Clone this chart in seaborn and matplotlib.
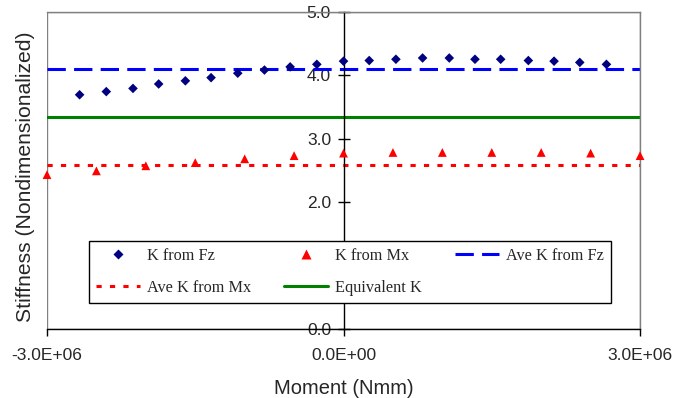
import matplotlib
matplotlib.use("Agg")
import matplotlib.pyplot as plt
from matplotlib.patches import Rectangle
from matplotlib.lines import Line2D
from matplotlib.ticker import FuncFormatter
import seaborn as sns
import pandas as pd

# Stiffness derived from the vertical force (Fz) over the moment sweep
moment_fz = [-2.67e6, -2.40e6, -2.13e6, -1.87e6, -1.60e6, -1.34e6, -1.07e6,
             -0.80e6, -0.54e6, -0.27e6, 0.0, 0.26e6, 0.53e6, 0.80e6, 1.07e6,
             1.33e6, 1.59e6, 1.87e6, 2.13e6, 2.39e6, 2.66e6]
k_fz = [3.69, 3.74, 3.79, 3.86, 3.91, 3.96, 4.03, 4.08, 4.13, 4.17, 4.22,
        4.23, 4.25, 4.27, 4.27, 4.25, 4.25, 4.23, 4.22, 4.20, 4.17]

# Stiffness derived from the moment (Mx)
moment_mx = [-3.0e6, -2.5e6, -2.0e6, -1.5e6, -1.0e6, -0.5e6, 0.0,
             0.5e6, 1.0e6, 1.5e6, 2.0e6, 2.5e6, 3.0e6]
k_mx = [2.43, 2.49, 2.57, 2.62, 2.68, 2.73, 2.77,
        2.78, 2.78, 2.78, 2.78, 2.77, 2.73]

ave_k_fz = 4.09
ave_k_mx = 2.59
equivalent_k = 3.34

x_ticks = [-3.0e6, 0.0, 3.0e6]
y_ticks = [0.0, 1.0, 2.0, 3.0, 4.0, 5.0]

sns.set_style("white")
plt.rcParams["font.family"] = ["Liberation Sans", "DejaVu Sans"]

fig = plt.figure(figsize=(6.88, 3.98), dpi=100)
ax = fig.add_axes([0.0683, 0.174, 0.862, 0.7966])

df_fz = pd.DataFrame({"moment": moment_fz, "k": k_fz})
df_mx = pd.DataFrame({"moment": moment_mx, "k": k_mx})

lw = 2.2
ax.axhline(ave_k_fz, color="#0000ff", lw=lw, dashes=(6, 2.7), zorder=2)
ax.axhline(ave_k_mx, color="#ff0000", lw=lw, dashes=(1.7, 2.7), zorder=2)
ax.axhline(equivalent_k, color="#008000", lw=lw, zorder=2)

sns.scatterplot(data=df_fz, x="moment", y="k", ax=ax, marker="D", s=24,
                color="#000080", edgecolor="none", zorder=4, legend=False,
                clip_on=False)
sns.scatterplot(data=df_mx, x="moment", y="k", ax=ax, marker="^", s=40,
                color="#ff0000", edgecolor="none", zorder=4, legend=False,
                clip_on=False)

ax.set_xlim(-3.0e6, 3.0e6)
ax.set_ylim(0.0, 5.0)
ax.set_xticks(x_ticks)
ax.set_yticks(y_ticks)
ax.xaxis.set_major_formatter(FuncFormatter(lambda v, p: "%.1E" % v))
ax.yaxis.set_major_formatter(FuncFormatter(lambda v, p: "%.1f" % v))

# Value axis crosses at zero moment; outer frame drawn in grey
ax.spines["left"].set_position(("data", 0))
ax.spines["left"].set_color("black")
ax.spines["left"].set_linewidth(1.0)
ax.spines["bottom"].set_color("black")
ax.spines["bottom"].set_linewidth(1.0)
for side in ("top", "right"):
    ax.spines[side].set_color("#808080")
    ax.spines[side].set_linewidth(1.0)
ax.add_patch(Rectangle((0, 0), 1, 1, transform=ax.transAxes, fill=False,
                       edgecolor="#808080", lw=1.0, zorder=0.5))

ax.tick_params(axis="y", direction="inout", length=8, width=1.0,
               color="black", labelsize=12.5, pad=5, left=True)
ax.tick_params(axis="x", direction="out", length=5, width=1.0,
               color="black", labelsize=12.5, pad=9, bottom=True)
for lab in ax.get_yticklabels():
    if lab.get_text() == "1.0":
        lab.set_visible(False)

ax.set_xlabel("Moment (Nmm)", fontsize=14.5)
ax.set_ylabel("Stiffness (Nondimensionalized)", fontsize=15.2)
ax.xaxis.set_label_coords(0.5, -0.157)
ax.yaxis.set_label_coords(-0.020, 0.478)

h_fz = Line2D([], [], ls="none", marker="D", ms=4.8, color="#000080", mec="none")
h_mx = Line2D([], [], ls="none", marker="^", ms=6.5, color="#ff0000", mec="none")
h_afz = Line2D([], [], color="#0000ff", lw=lw, dashes=(6, 2.7))
h_amx = Line2D([], [], color="#ff0000", lw=lw, dashes=(1.7, 2.7))
h_eq = Line2D([], [], color="#008000", lw=lw)
handles = [h_fz, h_amx, h_mx, h_eq, h_afz]
labels = ["K from Fz", "Ave K from Mx", "K from Mx", "Equivalent K", "Ave K from Fz"]
leg = ax.legend(handles, labels, ncol=3, loc="lower left",
                bbox_to_anchor=(0.0713, 0.082, 0.879, 0.198), mode="expand",
                frameon=True, fancybox=False, shadow=False, framealpha=1,
                edgecolor="black", handlelength=2.7, handletextpad=0.4,
                labelspacing=1.0, borderpad=0.43, borderaxespad=0,
                columnspacing=1.0,
                prop={"family": "Liberation Serif", "size": 11.7})
leg.get_frame().set_linewidth(1.0)
leg.set_zorder(5)

fig.savefig("out.png", dpi=100)
